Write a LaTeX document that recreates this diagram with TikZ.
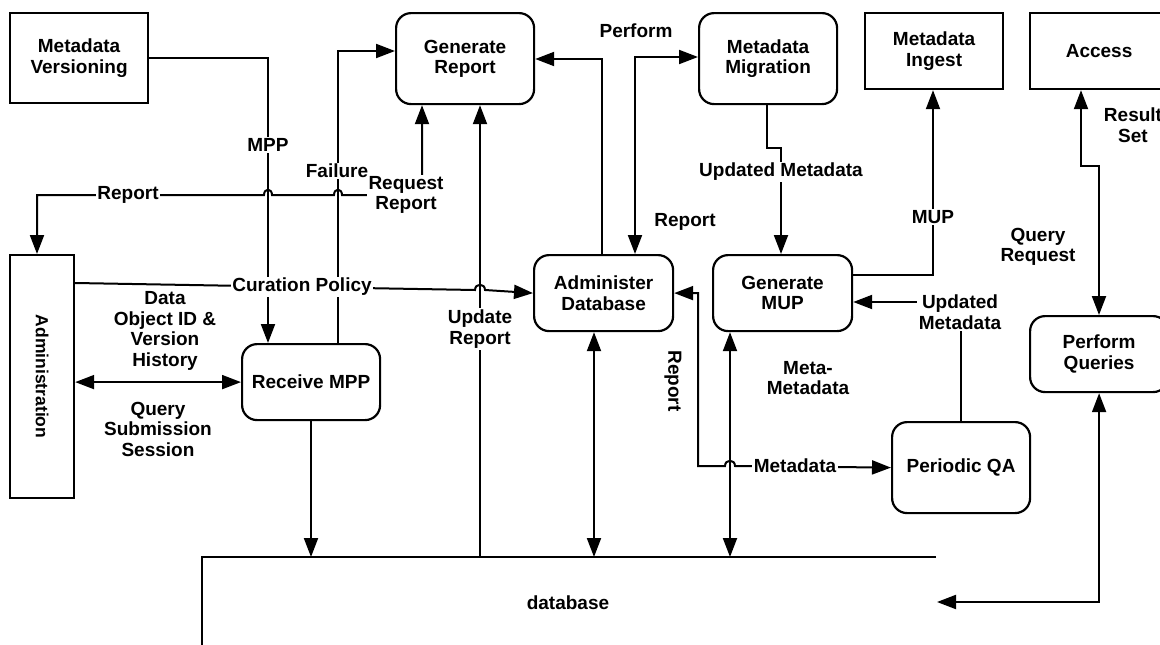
\documentclass[tikz,border=0pt]{standalone}
\usepackage{fontspec}
\setmainfont{Liberation Sans}
\usetikzlibrary{arrows.meta}
\begin{document}
\begin{tikzpicture}[x=1pt,y=-1pt,
  font=\bfseries\fontsize{19}{20.5}\selectfont,
  ext/.style={draw, line width=2.2pt, align=center, anchor=north west, inner sep=2pt},
  proc/.style={ext, rounded corners=15pt},
  wire/.style={line width=2pt},
  flow/.style={wire, -{Triangle[length=19pt,width=14pt]}},
  both/.style={wire, {Triangle[length=19pt,width=14pt]}-{Triangle[length=19pt,width=14pt]}},
  lbl/.style={fill=white, inner sep=1.5pt, align=center},
  txt/.style={align=center, inner sep=0pt},
]
\fill[white] (0,0) rectangle (1160,645);
\clip (0,0) rectangle (1160,645);

% ---- entities and processes ----
\node[ext, minimum width=138pt, minimum height=90pt] (mv) at (9,12) {Metadata\\Versioning};
\node[proc, minimum width=138pt, minimum height=91pt] (gr) at (395,12) {Generate\\Report};
\node[proc, minimum width=138pt, minimum height=91pt] (mm) at (698,12) {Metadata\\Migration};
\node[ext, minimum width=138pt, minimum height=76pt] (mi) at (864,12) {Metadata\\Ingest};
\node[ext, minimum width=138pt, minimum height=76pt] (acc) at (1029,12) {Access};
\node[ext, minimum width=64pt, minimum height=243pt] (adm) at (9,254)
  {\fontsize{17.5}{20}\selectfont\rotatebox{-90}{Administration}};
\node[proc, minimum width=138pt, minimum height=76pt] (rmpp) at (241,343) {Receive MPP};
\node[proc, minimum width=139pt, minimum height=76pt] (ad) at (533,254) {Administer\\Database};
\node[proc, minimum width=139pt, minimum height=76pt] (gmup) at (712,254) {Generate\\MUP};
\node[proc, minimum width=138pt, minimum height=76pt] (pq) at (1029,315) {Perform\\Queries};
\node[proc, minimum width=138pt, minimum height=91pt] (pqa) at (891,421) {Periodic QA};

% ---- database store (open box) ----
\coordinate (dbtl) at (202,557);
\coordinate (dbtr) at (936,557);
\coordinate (dbbl) at (202,650);
\coordinate (dbin) at (937,602);
\draw[line width=2.2pt] (dbtr) -- (dbtl) -- (dbbl);
\node (dblbl) at (568,603) {database};

% ---- bend points ----
\coordinate (bmpp) at (268,57);
\coordinate (bfail) at (338,51);
\coordinate (brr) at (422,195);
\coordinate (brep) at (37,195);
\coordinate (bcp) at (0,283);
\coordinate (bur) at (480,0);
\coordinate (bmdb) at (311,0);
\coordinate (badgr) at (602,59);
\coordinate (bperf) at (635,57);
\coordinate (bum) at (767,148);
\coordinate (bum2) at (781,148);
\coordinate (bmup) at (933,275);
\coordinate (bqa) at (0,302);
\coordinate (bmeta) at (730,0);
\coordinate (badb) at (594,0);
\coordinate (bqr) at (698,466);
\coordinate (bacc) at (1081,166);
\coordinate (bacc2) at (1099,166);

% ---- flows ----
% MPP
\draw[flow] (mv.east) -| (rmpp.north -| bmpp);
% Failure
\draw[flow] (rmpp.north -| bfail) |- (gr.west |- bfail);
% Request Report / Report
\draw[both] (gr.south -| brr) -- (brr) -- (342,195)
  .. controls (342,188) and (334,188) .. (334,195) -- (272,195)
  .. controls (272,188) and (264,188) .. (264,195) -- (brep) -- (adm.north -| brep);
% Curation Policy
\draw[flow] (adm.east |- bcp) -- (475,290)
  .. controls (475,283) and (485,283) .. (485,290) -- (ad.west);
% Data Object ID & Version History / Query Submission Session
\draw[both] (adm.east |- rmpp.west) -- (rmpp.west);
% Receive MPP to store
\draw[flow] (rmpp.south -| bmdb) -- (dbtl -| bmdb);
% Update Report
\draw[flow] (dbtl -| bur) -- (gr.south -| bur);
% Administer Database to Generate Report
\draw[flow] (ad.north -| badgr) |- (gr.east |- badgr);
% Perform / Report
\draw[both] (ad.north -| bperf) |- (mm.west |- bperf);
% Updated Metadata
\draw[flow] (mm.south -| bum) -- (bum) -- (bum2) -- (gmup.north -| bum2);
% MUP
\draw[flow] (gmup.east |- bmup) -| (mi.south -| bmup);
% Updated Metadata from Periodic QA
\draw[flow] (pqa.north) |- (gmup.east |- bqa);
% Meta-Metadata
\draw[both] (gmup.south -| bmeta) -- (dbtl -| bmeta);
% Administer Database and store
\draw[both] (ad.south -| badb) -- (dbtl -| badb);
% Report / Metadata
\draw[both] (ad.east) -| (bqr) -- (725,466)
  .. controls (725,459) and (735,459) .. (735,466) -- (pqa.west);
% Query Request / Result Set
\draw[both] (acc.south -| bacc) -- (bacc) -- (bacc2) -- (pq.north -| bacc2);
% Perform Queries and store
\draw[both] (pq.south) |- (dbin);

% ---- flow labels ----
\node[lbl] (lmpp) at (268,145) {MPP};
\node[lbl] (lfail) at (337,171) {Failure};
\node[lbl] (lrr) at (406,195) {Request\\Report};
\node[lbl] (lrep) at (128,195) {Report};
\node[lbl] (lcp) at (302,287) {Curation Policy};
\node[txt] (ldata) at (165,331) {Data\\Object ID \&\\Version\\History};
\node[txt] (lqss) at (158,429) {Query\\Submission\\Session};
\node[lbl] (lur) at (480,329) {Update\\Report};
\node[txt] (lperf) at (636,31) {Perform};
\node[txt] (lrep2) at (685,222) {Report};
\node[lbl] (lum) at (781,172) {Updated Metadata};
\node[lbl] (lmup) at (933,217) {MUP};
\node[lbl] (lum2) at (960,312) {Updated\\Metadata};
\node[txt] (lmeta) at (808,378) {Meta-\\Metadata};
\node[lbl] (lmd) at (795,466) {Metadata};
\node[txt] (lrep3) at (673,381) {\rotatebox{-90}{Report}};
\node[txt] (lres) at (1133,125) {Result\\Set};
\node[txt] (lqr) at (1038,247) {Query\\Request};
\end{tikzpicture}
\end{document}
